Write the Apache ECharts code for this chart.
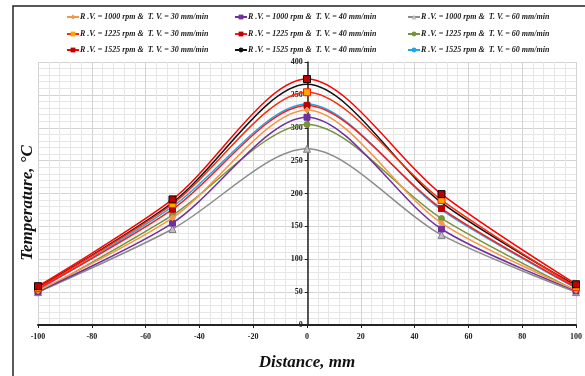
<!DOCTYPE html>
<html>
<head>
<meta charset="utf-8">
<script src="https://cdn.jsdelivr.net/npm/echarts@6/dist/echarts.min.js"></script>
<style>html,body{margin:0;padding:0;background:#fff;}#c{width:585px;height:376px;}</style>
</head>
<body>
<div id="c"></div>
<script>
const distances = [-100, -50, 0, 50, 100];
const seriesNames = [
  'R .V. = 1000 rpm &  T. V. = 30 mm/min',
  'R .V. = 1000 rpm &  T. V. = 40 mm/min',
  'R .V. = 1000 rpm &  T. V. = 60 mm/min',
  'R .V. = 1225 rpm &  T. V. = 30 mm/min',
  'R .V. = 1225 rpm &  T. V. = 40 mm/min',
  'R .V. = 1225 rpm &  T. V. = 60 mm/min',
  'R .V. = 1525 rpm &  T. V. = 30 mm/min',
  'R .V. = 1525 rpm &  T. V. = 40 mm/min',
  'R .V. = 1525 rpm &  T. V. = 60 mm/min'
];
const t1000_30 = [52, 163, 327, 155, 53];
const t1000_40 = [51, 155, 316, 146, 52];
const t1000_60 = [50, 146, 268, 137, 50];
const t1225_30 = [56, 184, 354, 190, 58];
const t1225_40 = [55, 176, 334, 177, 57];
const t1225_60 = [49, 167, 305, 162, 52];
const t1525_30 = [59, 191, 374, 199, 62];
const t1525_40 = [57, 186, 366, 186, 60];
const t1525_60 = [53, 180, 336, 175, 56];
const allValues = [t1000_30, t1000_40, t1000_60, t1225_30, t1225_40, t1225_60, t1525_30, t1525_40, t1525_60];
const yTicks = [0, 50, 100, 150, 200, 250, 300, 350, 400];
const xTicks = [-100, -80, -60, -40, -20, 0, 20, 40, 60, 80, 100];

const styles = [
  {line:'#F79646', sym:'diamond', fill:'#F79646', border:'#F79646', size:6},
  {line:'#7030A0', sym:'rect', fill:'#7030A0', border:'#7030A0', size:6},
  {line:'#8C8C8C', sym:'triangle', fill:'#BFBFBF', border:'#7F7F7F', size:7},
  {line:'#FF2A0A', sym:'rect', fill:'#FFA500', border:'#FF2000', size:7},
  {line:'#FF1A1A', sym:'rect', fill:'#C00000', border:'#C00000', size:6},
  {line:'#77933C', sym:'circle', fill:'#77933C', border:'#77933C', size:6},
  {line:'#FF0000', sym:'rect', fill:'#C00000', border:'#000000', size:7},
  {line:'#111111', sym:'none', fill:'#111111', border:'#111111', size:4},
  {line:'#1FA8E8', sym:'none', fill:'#1FA8E8', border:'#1FA8E8', size:4}
];

const serif = '"Liberation Serif","Times New Roman",serif';
const series = seriesNames.map((n, i) => ({
  name: n,
  type: 'line',
  smooth: 0.3,
  data: distances.map((d, j) => [d, allValues[i][j]]),
  symbol: styles[i].sym,
  symbolSize: styles[i].size,
  showSymbol: styles[i].sym !== 'none',
  lineStyle: {color: styles[i].line, width: 1.5},
  itemStyle: {color: styles[i].fill, borderColor: styles[i].border, borderWidth: 1},
  z: 10 - i % 3
}));

const colX = [66, 234, 407];
const rowY = [13, 30, 46];
const legends = seriesNames.map((n, i) => ({
  data: [n],
  left: colX[i % 3],
  top: rowY[Math.floor(i / 3)],
  itemWidth: 12,
  itemHeight: 6,
  itemGap: 0,
  padding: 0,
  itemStyle: {borderWidth: 0},
  textStyle: {fontFamily: serif, fontStyle: 'italic', fontWeight: 'bold', fontSize: 8, color: '#222', padding: [0,0,0,-4]}
}));

const chart = echarts.init(document.getElementById('c'), null, {renderer: 'canvas'});
chart.setOption({
  animation: false,
  backgroundColor: '#fff',
  legend: legends,
  grid: {left: 38, right: 7.5, top: 62, bottom: 45, containLabel: false},
  xAxis: {
    type: 'value', min: -100, max: 100, interval: 20,
    name: 'Distance, mm', nameLocation: 'middle', nameGap: 29,
    nameTextStyle: {fontFamily: serif, fontStyle: 'italic', fontWeight: 'bold', fontSize: 17, color: '#111'},
    axisLine: {onZero: false, lineStyle: {color: '#222', width: 2}},
    axisTick: {show: true, length: 3, lineStyle: {color: '#222'}},
    axisLabel: {fontFamily: serif, fontWeight: 'bold', fontSize: 8, color: '#222', margin: 8,
      formatter: v => xTicks.includes(v) ? String(v) : ''},
    splitLine: {show: true, lineStyle: {color: '#D3D3D3', width: 1}},
    minorTick: {show: false, splitNumber: 5},
    minorSplitLine: {show: true, lineStyle: {color: '#E6E6E6', width: 1}}
  },
  yAxis: {
    type: 'value', min: 0, max: 400, interval: 50,
    offset: -269.75,
    axisLine: {show: true, onZero: false, lineStyle: {color: '#222', width: 1.5}},
    axisTick: {show: true, length: 3, lineStyle: {color: '#222'}},
    axisLabel: {fontFamily: serif, fontWeight: 'bold', fontSize: 8, color: '#222', margin: 5,
      formatter: v => yTicks.includes(v) ? String(v) : ''},
    splitLine: {show: true, lineStyle: {color: '#D3D3D3', width: 1}},
    minorTick: {show: false, splitNumber: 5},
    minorSplitLine: {show: true, lineStyle: {color: '#E6E6E6', width: 1}}
  },
  graphic: [
    {type: 'rect', shape: {x: 13, y: 6, width: 620, height: 420}, style: {fill: null, stroke: '#222', lineWidth: 1.5}, silent: true, z: -1},
    {type: 'text', x: 28, y: 203, rotation: Math.PI / 2, style: {text: 'Temperature, °C', fontFamily: serif, fontStyle: 'italic', fontWeight: 'bold', fontSize: 17, fill: '#111', textAlign: 'center', textVerticalAlign: 'middle'}}
  ],
  series: series
});
</script>
</body>
</html>
